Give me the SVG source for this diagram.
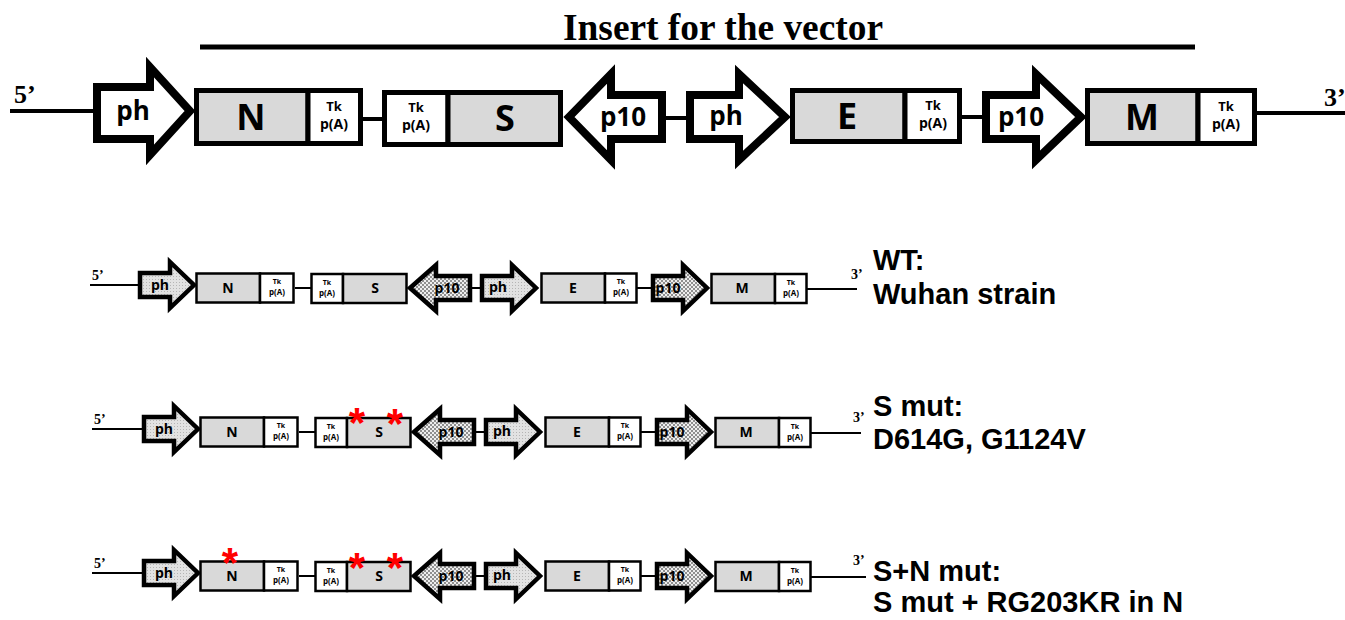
<svg xmlns="http://www.w3.org/2000/svg" xmlns:xlink="http://www.w3.org/1999/xlink" width="1345" height="620" viewBox="0 0 1345 620">
<style>
.big-arrow{fill:#fff;stroke:#000;stroke-width:8;stroke-linejoin:miter;stroke-miterlimit:10}
.gene{fill:#d9d9d9;stroke:#000;stroke-width:5}
.tk{fill:#fff;stroke:#000;stroke-width:5}
.conn{stroke:#000;stroke-width:4;fill:none}
.sconn{stroke:#000;stroke-width:2;fill:none}
.sgene{fill:#d9d9d9;stroke:#000;stroke-width:2.5}
.stk{fill:#fff;stroke:#000;stroke-width:2.5}
.sph{fill:url(#dots);stroke:#000;stroke-width:4.5;stroke-linejoin:miter;stroke-miterlimit:10}
.sp10{fill:url(#check);stroke:#000;stroke-width:4.5;stroke-linejoin:miter;stroke-miterlimit:10}
.lab{font-family:"Open Sans","Liberation Sans",sans-serif;font-weight:bold;text-anchor:middle;fill:#000}
.big{font-size:36px}
.mid{font-size:26px}
.tk1{font-size:13px}
.tk2{font-size:14px}
.sl{font-size:14px}
.sk1{font-size:7px}
.sk2{font-size:8px}
.end{font-family:"Liberation Serif",serif;font-weight:bold;fill:#000}
.desc{font-family:"Liberation Sans",Arial,sans-serif;font-weight:bold;font-size:29px;fill:#000}
.star{font-family:"Liberation Sans",Arial,sans-serif;font-weight:bold;font-size:42px;fill:#ff0000;text-anchor:middle}
</style>
<defs>
<pattern id="dots" width="3" height="3" patternUnits="userSpaceOnUse"><rect width="3" height="3" fill="#e2e2e2"/><rect width="1" height="1" fill="#b5b5b5"/></pattern>
<pattern id="check" width="4" height="4" patternUnits="userSpaceOnUse"><rect width="4" height="4" fill="#eeeeee"/><rect width="2" height="2" fill="#8f8f8f"/><rect x="2" y="2" width="2" height="2" fill="#8f8f8f"/></pattern>
<polygon id="sar" points="0,-12 30,-12 30,-23 54,0 30,23 30,12 0,12"/>
<polygon id="sal" points="0,0 26,-23 26,-12 60,-12 60,12 26,12 26,23"/>
</defs>
<rect width="1345" height="620" fill="#fff"/>

<g id="title">
<text x="723" y="40" font-family="'Liberation Serif',serif" font-weight="bold" font-size="38" text-anchor="middle" textLength="320" lengthAdjust="spacingAndGlyphs">Insert for the vector</text>
<line x1="200" y1="47" x2="1195" y2="47" stroke="#000" stroke-width="5"/>
</g>

<g id="connectors">
<g id="conn-top">
<line class="conn" x1="10" y1="111" x2="97" y2="111"/>
<line class="conn" x1="363" y1="119" x2="384" y2="119"/>
<line class="conn" x1="662" y1="118" x2="690" y2="118"/>
<line class="conn" x1="962" y1="117" x2="986" y2="117"/>
<line class="conn" x1="1257" y1="113" x2="1345" y2="113"/>
</g>
<g id="conn-rows">
<g id="conn-r1">
<line class="sconn" x1="90" y1="285" x2="140" y2="285"/>
<line class="sconn" x1="295" y1="288" x2="311" y2="288"/>
<line class="sconn" x1="470" y1="288" x2="482" y2="288"/>
<line class="sconn" x1="637" y1="288" x2="652" y2="288"/>
<line class="sconn" x1="807" y1="289" x2="857" y2="289"/>
</g>
<g id="conn-r2" transform="translate(4,144)">
<line class="sconn" x1="88" y1="285" x2="140" y2="285"/>
<line class="sconn" x1="295" y1="288" x2="311" y2="288"/>
<line class="sconn" x1="470" y1="288" x2="482" y2="288"/>
<line class="sconn" x1="637" y1="288" x2="652" y2="288"/>
<line class="sconn" x1="807" y1="289" x2="857" y2="289"/>
</g>
<g id="conn-r3" transform="translate(4,288)">
<line class="sconn" x1="88" y1="285" x2="140" y2="285"/>
<line class="sconn" x1="295" y1="288" x2="311" y2="288"/>
<line class="sconn" x1="470" y1="288" x2="482" y2="288"/>
<line class="sconn" x1="637" y1="288" x2="652" y2="288"/>
<line class="sconn" x1="807" y1="289" x2="862" y2="289"/>
</g>
</g>
</g>

<g id="ends">
<text class="end" x="14" y="103" font-size="26">5’</text>
<text class="end" x="1324" y="106" font-size="26">3’</text>
<text class="end" x="92" y="280" font-size="14">5’</text>
<text class="end" x="851" y="279" font-size="14">3’</text>
<text class="end" x="94" y="424" font-size="14">5’</text>
<text class="end" x="853" y="422" font-size="14">3’</text>
<text class="end" x="94" y="568" font-size="14">5’</text>
<text class="end" x="853" y="565" font-size="14">3’</text>
</g>

<!-- top row nodes -->
<g id="top-ph1"><polygon class="big-arrow" points="97,87 150,87 150,67 190,111 150,155 150,139 97,139"/><text class="lab mid" x="133" y="120">ph</text></g>
<g id="top-N"><rect class="gene" x="196.5" y="90.5" width="111.5" height="53"/><rect class="tk" x="308" y="90.5" width="52.5" height="53"/><text class="lab big" x="251" y="130">N</text><text class="lab tk1" x="334" y="111">Tk</text><text class="lab tk2" x="334" y="129">p(A)</text></g>
<g id="top-S"><rect class="tk" x="384.5" y="92.5" width="63.5" height="52"/><rect class="gene" x="448" y="92.5" width="112.5" height="52"/><text class="lab tk1" x="416" y="112">Tk</text><text class="lab tk2" x="416" y="130">p(A)</text><text class="lab big" x="505" y="131">S</text></g>
<g id="top-p10a"><polygon class="big-arrow" points="569,117 611,74 611,95 662,95 662,139 611,139 611,160"/><text class="lab mid" x="623" y="126">p10</text></g>
<g id="top-ph2"><polygon class="big-arrow" points="690,95 739,95 739,74 785,117 739,160 739,139 690,139"/><text class="lab mid" x="726" y="125">ph</text></g>
<g id="top-E"><rect class="gene" x="792.5" y="90.5" width="112.5" height="51"/><rect class="tk" x="905" y="90.5" width="54.5" height="51"/><text class="lab big" x="847" y="129">E</text><text class="lab tk1" x="933" y="110">Tk</text><text class="lab tk2" x="933" y="128">p(A)</text></g>
<g id="top-p10b"><polygon class="big-arrow" points="986,95 1036,95 1036,74 1081,117 1036,160 1036,139 986,139"/><text class="lab mid" x="1021" y="126">p10</text></g>
<g id="top-M"><rect class="gene" x="1087.5" y="90.5" width="110.5" height="53"/><rect class="tk" x="1198" y="90.5" width="56.5" height="53"/><text class="lab big" x="1142" y="130">M</text><text class="lab tk1" x="1226" y="111">Tk</text><text class="lab tk2" x="1226" y="129">p(A)</text></g>

<!-- row 1: WT -->
<g id="row-wt">
<g id="wt-ph1"><use xlink:href="#sar" x="140" y="285" class="sph"/><text class="lab sl" x="160" y="290">ph</text></g>
<g id="wt-N"><rect class="sgene" x="196.5" y="273.5" width="63.5" height="29"/><rect class="stk" x="260" y="273.5" width="33.5" height="29"/><text class="lab sl" x="228" y="293">N</text><text class="lab sk1" x="277" y="284">Tk</text><text class="lab sk2" x="277" y="295">p(A)</text></g>
<g id="wt-S"><rect class="stk" x="311.5" y="274" width="31.5" height="29"/><rect class="sgene" x="343" y="274" width="63.5" height="29"/><text class="lab sk1" x="327" y="285">Tk</text><text class="lab sk2" x="327" y="296">p(A)</text><text class="lab sl" x="375" y="293">S</text></g>
<g id="wt-p10a"><use xlink:href="#sal" x="410" y="288" class="sp10"/><text class="lab sl" x="447" y="293">p10</text></g>
<g id="wt-ph2"><use xlink:href="#sar" x="482" y="288" class="sph"/><text class="lab sl" x="498" y="292">ph</text></g>
<g id="wt-E"><rect class="sgene" x="541.5" y="273.5" width="63.5" height="29"/><rect class="stk" x="605" y="273.5" width="31.5" height="29"/><text class="lab sl" x="573" y="293">E</text><text class="lab sk1" x="621" y="284">Tk</text><text class="lab sk2" x="621" y="295">p(A)</text></g>
<g id="wt-p10b"><use xlink:href="#sar" x="653" y="288" class="sp10"/><text class="lab sl" x="668" y="293">p10</text></g>
<g id="wt-M"><rect class="sgene" x="711.5" y="274" width="63.5" height="29"/><rect class="stk" x="775" y="274" width="31.5" height="29"/><text class="lab sl" x="742" y="293">M</text><text class="lab sk1" x="791" y="285">Tk</text><text class="lab sk2" x="791" y="296">p(A)</text></g>
</g>

<!-- row 2: S mut -->
<g id="row-smut" transform="translate(4,144)">
<g id="sm-ph1"><use xlink:href="#sar" x="140" y="285" class="sph"/><text class="lab sl" x="160" y="290">ph</text></g>
<g id="sm-N"><rect class="sgene" x="196.5" y="273.5" width="63.5" height="29"/><rect class="stk" x="260" y="273.5" width="33.5" height="29"/><text class="lab sl" x="228" y="293">N</text><text class="lab sk1" x="277" y="284">Tk</text><text class="lab sk2" x="277" y="295">p(A)</text></g>
<g id="sm-S"><rect class="stk" x="311.5" y="274" width="31.5" height="29"/><rect class="sgene" x="343" y="274" width="63.5" height="29"/><text class="lab sk1" x="327" y="285">Tk</text><text class="lab sk2" x="327" y="296">p(A)</text><text class="lab sl" x="375" y="293">S</text></g>
<g id="sm-p10a"><use xlink:href="#sal" x="410" y="288" class="sp10"/><text class="lab sl" x="447" y="293">p10</text></g>
<g id="sm-ph2"><use xlink:href="#sar" x="482" y="288" class="sph"/><text class="lab sl" x="498" y="292">ph</text></g>
<g id="sm-E"><rect class="sgene" x="541.5" y="273.5" width="63.5" height="29"/><rect class="stk" x="605" y="273.5" width="31.5" height="29"/><text class="lab sl" x="573" y="293">E</text><text class="lab sk1" x="621" y="284">Tk</text><text class="lab sk2" x="621" y="295">p(A)</text></g>
<g id="sm-p10b"><use xlink:href="#sar" x="653" y="288" class="sp10"/><text class="lab sl" x="668" y="293">p10</text></g>
<g id="sm-M"><rect class="sgene" x="711.5" y="274" width="63.5" height="29"/><rect class="stk" x="775" y="274" width="31.5" height="29"/><text class="lab sl" x="742" y="293">M</text><text class="lab sk1" x="791" y="285">Tk</text><text class="lab sk2" x="791" y="296">p(A)</text></g>
</g>

<!-- row 3: S+N mut -->
<g id="row-snmut" transform="translate(4,288)">
<g id="sn-ph1"><use xlink:href="#sar" x="140" y="285" class="sph"/><text class="lab sl" x="160" y="290">ph</text></g>
<g id="sn-N"><rect class="sgene" x="196.5" y="273.5" width="63.5" height="29"/><rect class="stk" x="260" y="273.5" width="33.5" height="29"/><text class="lab sl" x="228" y="293">N</text><text class="lab sk1" x="277" y="284">Tk</text><text class="lab sk2" x="277" y="295">p(A)</text></g>
<g id="sn-S"><rect class="stk" x="311.5" y="274" width="31.5" height="29"/><rect class="sgene" x="343" y="274" width="63.5" height="29"/><text class="lab sk1" x="327" y="285">Tk</text><text class="lab sk2" x="327" y="296">p(A)</text><text class="lab sl" x="375" y="293">S</text></g>
<g id="sn-p10a"><use xlink:href="#sal" x="410" y="288" class="sp10"/><text class="lab sl" x="447" y="293">p10</text></g>
<g id="sn-ph2"><use xlink:href="#sar" x="482" y="288" class="sph"/><text class="lab sl" x="498" y="292">ph</text></g>
<g id="sn-E"><rect class="sgene" x="541.5" y="273.5" width="63.5" height="29"/><rect class="stk" x="605" y="273.5" width="31.5" height="29"/><text class="lab sl" x="573" y="293">E</text><text class="lab sk1" x="621" y="284">Tk</text><text class="lab sk2" x="621" y="295">p(A)</text></g>
<g id="sn-p10b"><use xlink:href="#sar" x="653" y="288" class="sp10"/><text class="lab sl" x="668" y="293">p10</text></g>
<g id="sn-M"><rect class="sgene" x="711.5" y="274" width="63.5" height="29"/><rect class="stk" x="775" y="274" width="31.5" height="29"/><text class="lab sl" x="742" y="293">M</text><text class="lab sk1" x="791" y="285">Tk</text><text class="lab sk2" x="791" y="296">p(A)</text></g>
</g>

<g id="mutations">
<text class="star" x="357" y="437">*</text>
<text class="star" x="395" y="438">*</text>
<text class="star" x="230" y="577">*</text>
<text class="star" x="357" y="582">*</text>
<text class="star" x="395" y="582">*</text>
</g>

<g id="descriptions">
<text class="desc" x="873" y="270">WT:</text>
<text class="desc" x="873" y="304">Wuhan strain</text>
<text class="desc" x="873" y="416">S mut:</text>
<text class="desc" x="873" y="449">D614G, G1124V</text>
<text class="desc" x="873" y="581">S+N mut:</text>
<text class="desc" x="873" y="612">S mut + RG203KR in N</text>
</g>
</svg>
